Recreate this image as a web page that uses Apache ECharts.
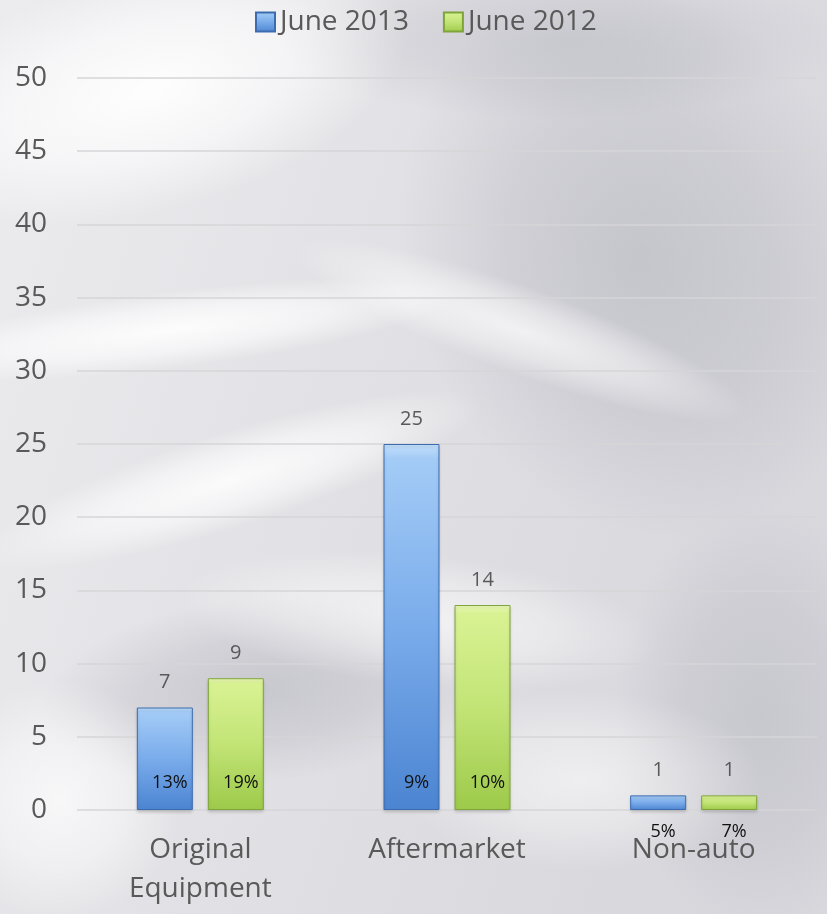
<!DOCTYPE html>
<html>
<head>
<meta charset="utf-8">
<script src="https://cdn.jsdelivr.net/npm/echarts@6/dist/echarts.min.js"></script>
<style>
  html, body { margin: 0; padding: 0; }
  #chart { width: 827px; height: 914px; }
</style>
</head>
<body>
<div id="chart"></div>
<script>
// Segments and yearly counts
const categories = ['Original\nEquipment', 'Aftermarket', 'Non-auto'];
const seriesNames = ['June 2013', 'June 2012'];
const june2013 = [7, 25, 1];
const june2012 = [9, 14, 1];
// Share labels shown near the base of each bar
const share2013 = ['13%', '9%', '5%'];
const share2012 = ['19%', '10%', '7%'];

const FONT = '"Open Sans", "Noto Sans", sans-serif';
const TEXT = '#595959';
const BAR_W = 56;
const BAR_GAP = 15;

const blueFill = {
  type: 'linear', x: 0, y: 0, x2: 0, y2: 1,
  colorStops: [
    { offset: 0, color: '#c4e0fb' },
    { offset: 0.04, color: '#a3cbf6' },
    { offset: 0.5, color: '#7aaceb' },
    { offset: 1, color: '#4b84d1' }
  ]
};
const greenFill = {
  type: 'linear', x: 0, y: 0, x2: 0, y2: 1,
  colorStops: [
    { offset: 0, color: '#eefbbc' },
    { offset: 0.04, color: '#d9f293' },
    { offset: 0.5, color: '#c2e476' },
    { offset: 1, color: '#9dca4a' }
  ]
};

// Soft light and shade patches for the backdrop
function patch(cx, cy, r, sx, sy, rot, rgb, alpha) {
  return {
    type: 'circle',
    z: -10,
    silent: true,
    x: cx, y: cy, scaleX: sx, scaleY: sy, rotation: rot,
    shape: { cx: 0, cy: 0, r: r },
    style: {
      fill: {
        type: 'radial', x: 0.5, y: 0.5, r: 0.5,
        colorStops: [
          { offset: 0, color: 'rgba(' + rgb + ',' + alpha + ')' },
          { offset: 0.55, color: 'rgba(' + rgb + ',' + (alpha * 0.6) + ')' },
          { offset: 1, color: 'rgba(' + rgb + ',0)' }
        ]
      }
    }
  };
}
const W = '255,255,255';
const G = '168,168,178';
const backdrop = [
  patch(640, 260, 260, 0.9, 1.1, 0.4, G, 0.45),
  patch(260, 690, 170, 1.3, 0.55, 0.1, G, 0.45),
  patch(760, 720, 180, 0.8, 1.2, 0, G, 0.35),
  patch(560, 40, 200, 1.4, 0.4, 0, G, 0.35),
  patch(150, 90, 220, 1.2, 0.55, 0.25, W, 0.95),
  patch(170, 330, 240, 1.2, 0.16, 0.12, W, 0.9),
  patch(230, 480, 240, 1.1, 0.2, 0.3, W, 0.85),
  patch(520, 330, 200, 1.2, 0.22, -0.35, W, 0.7),
  patch(420, 620, 220, 1.1, 0.3, -0.1, W, 0.6),
  patch(60, 800, 150, 0.8, 0.8, 0, W, 0.7),
  patch(580, 780, 180, 1.0, 0.5, 0, W, 0.55)
];

const chart = echarts.init(document.getElementById('chart'));

// Share text anchored to the base of each bar slot
function shareRenderer(shares, side, seriesData) {
  return function (params, api) {
    const idx = api.value(0);
    const base = api.coord([idx, 0]);
    const cx = base[0] + side * (BAR_W / 2 + BAR_GAP / 2) + 5;
    const inside = seriesData[idx] >= 2;
    return {
      type: 'text',
      style: {
        x: cx,
        y: inside ? base[1] - 27 : base[1] + 22,
        text: shares[idx],
        fill: '#111',
        font: '18px ' + FONT,
        textAlign: 'center',
        textVerticalAlign: 'middle'
      }
    };
  };
}

const valueLabel = {
  show: true, position: 'top', distance: 15,
  fontFamily: FONT, fontSize: 20, color: TEXT
};

const option = {
  backgroundColor: {
    type: 'linear', x: 0, y: 0, x2: 1, y2: 0.3,
    colorStops: [
      { offset: 0, color: '#ececef' },
      { offset: 1, color: '#d8d8dd' }
    ]
  },
  animation: false,
  graphic: backdrop,
  legend: {
    top: 3,
    left: 250,
    itemWidth: 19,
    itemHeight: 19,
    itemGap: 34,
    icon: 'rect',
    textStyle: { fontFamily: FONT, fontSize: 28, color: TEXT },
    data: seriesNames
  },
  grid: { left: 77, right: 10, top: 78, bottom: 104 },
  xAxis: {
    type: 'category',
    data: categories,
    axisLine: { show: false },
    axisTick: { show: false },
    axisLabel: {
      fontFamily: FONT, fontSize: 28, color: TEXT,
      margin: 21, lineHeight: 39
    }
  },
  yAxis: {
    type: 'value',
    min: 0, max: 50, interval: 5,
    axisLine: { show: false },
    axisTick: { show: false },
    splitLine: { lineStyle: { color: '#d6d6d8', width: 1.5 } },
    axisLabel: { fontFamily: FONT, fontSize: 28, color: TEXT, margin: 30 }
  },
  series: [
    {
      name: seriesNames[0],
      type: 'bar',
      data: june2013,
      barWidth: BAR_W,
      barGap: (BAR_GAP / BAR_W * 100).toFixed(1) + '%',
      itemStyle: {
        color: blueFill, borderColor: '#3d6cae', borderWidth: 1,
        shadowColor: 'rgba(0,0,0,0.15)', shadowBlur: 3, shadowOffsetY: 2
      },
      label: valueLabel
    },
    {
      name: seriesNames[1],
      type: 'bar',
      data: june2012,
      barWidth: BAR_W,
      itemStyle: {
        color: greenFill, borderColor: '#7ea43a', borderWidth: 1,
        shadowColor: 'rgba(0,0,0,0.15)', shadowBlur: 3, shadowOffsetY: 2
      },
      label: valueLabel
    },
    {
      type: 'custom',
      silent: true,
      data: categories.map((c, i) => [i]),
      renderItem: shareRenderer(share2013, -1, june2013),
      z: 10
    },
    {
      type: 'custom',
      silent: true,
      data: categories.map((c, i) => [i]),
      renderItem: shareRenderer(share2012, 1, june2012),
      z: 10
    }
  ]
};

chart.setOption(option);
</script>
</body>
</html>
